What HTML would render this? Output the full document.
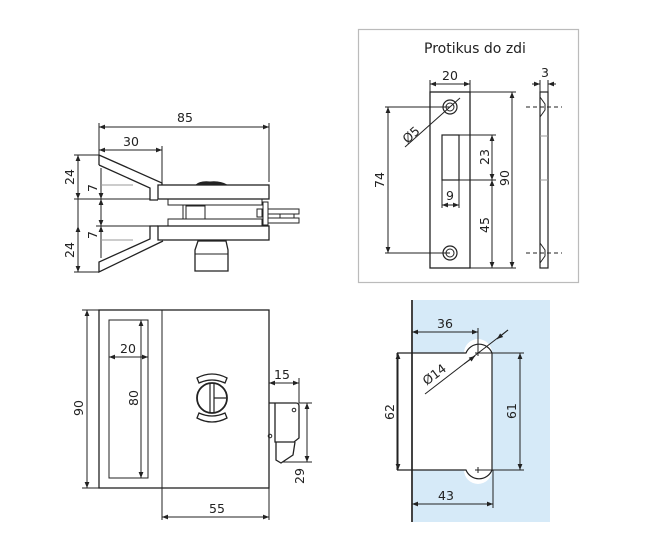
<!DOCTYPE html>
<html><head><meta charset="utf-8"><style>
html,body{margin:0;padding:0;background:#fff;}
svg{display:block;}
text{font-family:"DejaVu Sans","Liberation Sans",sans-serif;font-size:12.5px;fill:#222;}
</style></head><body>
<svg width="650" height="548" viewBox="0 0 650 548" xmlns="http://www.w3.org/2000/svg">
<defs>
<marker id="a" viewBox="0 0 10 10" refX="10" refY="5" markerWidth="8" markerHeight="6" orient="auto-start-reverse" markerUnits="userSpaceOnUse"><path d="M0,1 L10,5 L0,9 z" fill="#222"/></marker>
</defs>
<g stroke="#222" stroke-width="1" fill="none">
<!-- TOP LEFT VIEW -->
<line x1="99" y1="123" x2="99" y2="155"/>
<line x1="162" y1="146" x2="162" y2="183"/>
<line x1="269" y1="123" x2="269" y2="182"/>
<line x1="99" y1="127" x2="269" y2="127" marker-start="url(#a)" marker-end="url(#a)"/>
<line x1="99" y1="150" x2="162" y2="150" marker-start="url(#a)" marker-end="url(#a)"/>
<!-- upper arm -->
<path d="M99,155 L162,183 L162,185 M99,165 L150,188 L150,200 L158,200" stroke-width="1.3"/>
<line x1="99" y1="155" x2="99" y2="165" stroke-width="1.3"/>
<rect x="158" y="185" width="111" height="14" stroke-width="1.3"/>
<path d="M196,185 Q200,181 210,182 Q220,181 227,185 Z" fill="#222"/>
<rect x="168" y="199" width="94" height="6"/>
<rect x="168" y="219" width="94" height="7"/>
<rect x="186" y="206" width="19" height="13"/>
<line x1="183" y1="205" x2="183" y2="219"/>
<rect x="257" y="209" width="5" height="8"/>
<rect x="263" y="202" width="5" height="23"/>
<rect x="268" y="209" width="31" height="5"/>
<rect x="268" y="218" width="31" height="5"/>
<line x1="280" y1="214" x2="280" y2="218"/>
<line x1="294" y1="214" x2="294" y2="218"/>
<rect x="158" y="226" width="111" height="14" stroke-width="1.3"/>
<!-- lower arm -->
<path d="M158,226 L150,226 L150,239 L99,262 L99,272 L163,241" stroke-width="1.3"/>
<path d="M198,241 L226,241 L228,250 L228,271 L195,271 L195,250 Z" stroke-width="1.3"/>
<line x1="195" y1="254" x2="228" y2="254"/>
<!-- left dims -->
<line x1="74" y1="155" x2="99" y2="155"/>
<line x1="74" y1="199" x2="150" y2="199"/>
<line x1="74" y1="272" x2="99" y2="272"/>
<line x1="96" y1="226" x2="150" y2="226"/>
<line x1="78" y1="155" x2="78" y2="199" marker-start="url(#a)" marker-end="url(#a)"/>
<line x1="78" y1="226" x2="78" y2="272" marker-start="url(#a)" marker-end="url(#a)"/>
<line x1="101" y1="168" x2="101" y2="199" marker-end="url(#a)"/>
<line x1="101" y1="210" x2="101" y2="199" marker-end="url(#a)"/>
<line x1="101" y1="215" x2="101" y2="226" marker-end="url(#a)"/>
<line x1="101" y1="258" x2="101" y2="226" marker-end="url(#a)"/>
<line x1="101" y1="168" x2="101" y2="258"/>
<line x1="78" y1="199" x2="78" y2="226"/>
<line x1="101" y1="185" x2="133" y2="185" stroke="#999"/>
<line x1="101" y1="240" x2="133" y2="240" stroke="#999"/>

<!-- BOTTOM LEFT VIEW -->
<rect x="99" y="310" width="170" height="178" stroke-width="1.3"/>
<line x1="162" y1="310" x2="162" y2="520"/>
<line x1="269" y1="488" x2="269" y2="520"/>
<rect x="109" y="320" width="39" height="158"/>
<line x1="109" y1="357" x2="148" y2="357" marker-start="url(#a)" marker-end="url(#a)"/>
<line x1="141" y1="320" x2="141" y2="478" marker-start="url(#a)" marker-end="url(#a)"/>
<line x1="82" y1="310" x2="99" y2="310"/>
<line x1="82" y1="488" x2="99" y2="488"/>
<line x1="87" y1="310" x2="87" y2="488" marker-start="url(#a)" marker-end="url(#a)"/>
<line x1="162" y1="517" x2="269" y2="517" marker-start="url(#a)" marker-end="url(#a)"/>
<circle cx="212" cy="398" r="15" stroke-width="1.8"/>
<path d="M210,384 L210,412 M214,384 L214,412 M214,398 L226,398" stroke-width="1.2"/>
<path d="M197,378 Q212,370 227,378 L225,383 Q212,377 199,383 Z" stroke-width="1.3"/>
<path d="M197,418 Q212,426 227,418 L225,413 Q212,419 199,413 Z" stroke-width="1.3"/>
<path d="M269,403 L296,403 Q299,403 299,406 L299,438 L294,442 L275,442 L275,403" stroke-width="1.3"/>
<path d="M276,442 L276,460 L281,463 L293,455 L295,442" stroke-width="1.3"/>
<circle cx="294" cy="410" r="1.8"/>
<circle cx="270" cy="436" r="1.8"/>
<line x1="299" y1="378" x2="299" y2="403"/>
<line x1="269" y1="383" x2="299" y2="383" marker-start="url(#a)" marker-end="url(#a)"/>
<line x1="299" y1="403" x2="312" y2="403"/>
<line x1="283" y1="462" x2="312" y2="462"/>
<line x1="307" y1="403" x2="307" y2="462" marker-start="url(#a)" marker-end="url(#a)"/>

<!-- TOP RIGHT BOX -->
<rect x="358.5" y="29.5" width="220" height="253" stroke="#bbb" stroke-width="1.2"/>
<rect x="430" y="92" width="40" height="176" stroke-width="1.3"/>
<line x1="430" y1="80" x2="430" y2="92"/>
<line x1="470" y1="80" x2="470" y2="92"/>
<line x1="430" y1="84" x2="470" y2="84" marker-start="url(#a)" marker-end="url(#a)"/>
<circle cx="450" cy="107" r="7" stroke-width="1.2"/>
<circle cx="450" cy="107" r="4"/>
<circle cx="450" cy="253" r="7" stroke-width="1.2"/>
<circle cx="450" cy="253" r="4"/>
<line x1="460" y1="98" x2="405" y2="147"/>
<rect x="442" y="135" width="17" height="45" stroke-width="1.2"/>
<line x1="385" y1="107" x2="450" y2="107"/>
<line x1="385" y1="253" x2="450" y2="253"/>
<line x1="388" y1="107" x2="388" y2="253" marker-start="url(#a)" marker-end="url(#a)"/>
<line x1="459" y1="135" x2="496" y2="135"/>
<line x1="459" y1="180" x2="496" y2="180"/>
<line x1="470" y1="268" x2="516" y2="268"/>
<line x1="470" y1="92" x2="516" y2="92"/>
<line x1="492" y1="135" x2="492" y2="180" marker-start="url(#a)" marker-end="url(#a)"/>
<line x1="492" y1="180" x2="492" y2="268" marker-start="url(#a)" marker-end="url(#a)"/>
<line x1="512" y1="92" x2="512" y2="268" marker-start="url(#a)" marker-end="url(#a)"/>
<line x1="442" y1="180" x2="442" y2="208"/>
<line x1="459" y1="180" x2="459" y2="208"/>
<line x1="442" y1="205" x2="459" y2="205" marker-start="url(#a)" marker-end="url(#a)"/>
<rect x="540" y="92" width="8" height="176" stroke-width="1.2"/>
<path d="M540,97 L545,104 L545,110 L540,117 M540,243 L545,250 L545,256 L540,263" />
<line x1="540" y1="136" x2="548" y2="136" stroke="#999"/>
<line x1="540" y1="180" x2="548" y2="180" stroke="#999"/>
<line x1="526" y1="107" x2="562" y2="107" stroke-dasharray="4,3"/>
<line x1="526" y1="253" x2="562" y2="253" stroke-dasharray="4,3"/>
<line x1="540" y1="80" x2="540" y2="92"/>
<line x1="548" y1="80" x2="548" y2="92"/>
<line x1="532" y1="84" x2="540" y2="84" marker-end="url(#a)"/>
<line x1="556" y1="84" x2="548" y2="84" marker-end="url(#a)"/>
</g>

<!-- BOTTOM RIGHT -->
<rect x="412" y="300" width="138" height="222" fill="#d6eaf8"/>
<path d="M412,353 L464,353 A14,14 0 0 1 492,353 L492,470 A14,14 0 0 1 464,470 L412,470 L397,470 L397,353 Z" fill="#fff" stroke="none"/>
<g stroke="#222" stroke-width="1" fill="none">
<line x1="412" y1="300" x2="412" y2="522" stroke="#444" stroke-width="2"/>
<path d="M397,353 L466,353 A14,14 0 0 1 492,353 L492,470 A14,14 0 0 1 466,470 L397,470" stroke-width="1.2"/>
<line x1="397" y1="353" x2="397" y2="470"/>
<path d="M475,353 L481,353 M478,350 L478,356 M475,470 L481,470 M478,467 L478,473"/>
<line x1="478" y1="328" x2="478" y2="353"/>
<line x1="412" y1="332" x2="478" y2="332" marker-start="url(#a)" marker-end="url(#a)"/>
<line x1="493" y1="470" x2="493" y2="508"/>
<line x1="412" y1="504" x2="493" y2="504" marker-start="url(#a)" marker-end="url(#a)"/>
<line x1="398" y1="353" x2="398" y2="470" marker-start="url(#a)" marker-end="url(#a)"/>
<line x1="478" y1="353" x2="524" y2="353"/>
<line x1="478" y1="470" x2="524" y2="470"/>
<line x1="520" y1="353" x2="520" y2="470" marker-start="url(#a)" marker-end="url(#a)"/>
<line x1="508" y1="330" x2="425" y2="394"/>
<line x1="508" y1="330" x2="497" y2="339" marker-end="url(#a)"/>
<line x1="464" y1="364" x2="475" y2="356" marker-end="url(#a)"/>
</g>

<g>
<text x="185" y="122" text-anchor="middle">85</text>
<text x="131" y="146" text-anchor="middle">30</text>
<text transform="translate(74,177) rotate(-90)" text-anchor="middle">24</text>
<text transform="translate(74,250) rotate(-90)" text-anchor="middle">24</text>
<text transform="translate(97,188) rotate(-90)" text-anchor="middle">7</text>
<text transform="translate(97,235) rotate(-90)" text-anchor="middle">7</text>
<text x="128" y="353" text-anchor="middle">20</text>
<text transform="translate(138,398) rotate(-90)" text-anchor="middle">80</text>
<text transform="translate(83,408) rotate(-90)" text-anchor="middle">90</text>
<text x="217" y="513" text-anchor="middle">55</text>
<text x="282" y="379" text-anchor="middle">15</text>
<text transform="translate(304,476) rotate(-90)" text-anchor="middle">29</text>
<text x="475" y="53" text-anchor="middle" style="font-size:14px">Protikus do zdi</text>
<text x="450" y="80" text-anchor="middle">20</text>
<text x="545" y="77" text-anchor="middle">3</text>
<text transform="translate(414,138) rotate(-42)" text-anchor="middle">Ø5</text>
<text transform="translate(384,180) rotate(-90)" text-anchor="middle">74</text>
<text transform="translate(489,157) rotate(-90)" text-anchor="middle">23</text>
<text transform="translate(489,225) rotate(-90)" text-anchor="middle">45</text>
<text transform="translate(509,178) rotate(-90)" text-anchor="middle">90</text>
<text x="450" y="200" text-anchor="middle">9</text>
<text x="445" y="328" text-anchor="middle">36</text>
<text x="446" y="500" text-anchor="middle">43</text>
<text transform="translate(394,412) rotate(-90)" text-anchor="middle">62</text>
<text transform="translate(516,411) rotate(-90)" text-anchor="middle">61</text>
<text transform="translate(437,378) rotate(-37)" text-anchor="middle">Ø14</text>
</g>
</svg>
</body></html>
